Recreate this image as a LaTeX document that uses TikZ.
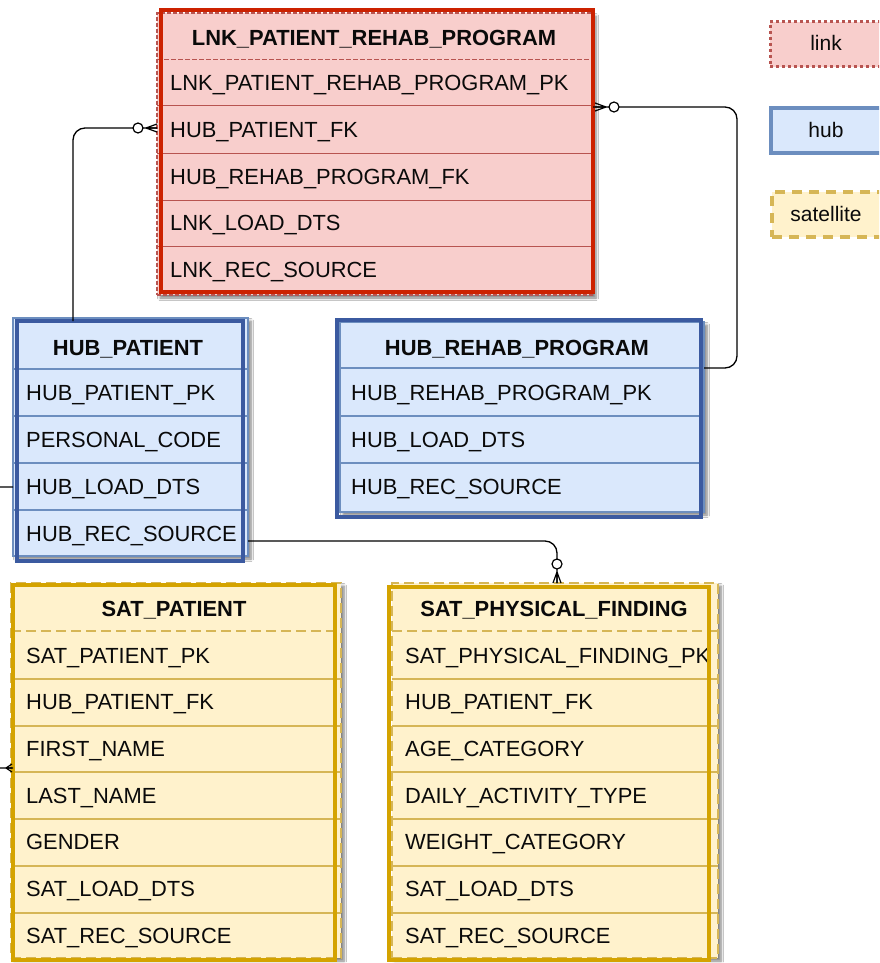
\documentclass[tikz,border=0pt]{standalone}
\usepackage{fontspec}
\setmainfont{Liberation Sans}
\usetikzlibrary{shadows.blur,calc}

\definecolor{lnkfill}{HTML}{F8CECC}
\definecolor{lnkline}{HTML}{B85450}
\definecolor{lnkedge}{HTML}{CC2200}
\definecolor{hubfill}{HTML}{DAE8FC}
\definecolor{hubline}{HTML}{6C8EBF}
\definecolor{hubedge}{HTML}{3B5AA0}
\definecolor{satfill}{HTML}{FFF2CC}
\definecolor{satline}{HTML}{D6B656}
\definecolor{satedge}{HTML}{D4A300}
\definecolor{ink}{HTML}{0A0A0A}

\tikzset{
  size/.style args={#1/#2}{minimum width=#1pt, minimum height=#2pt},
  tbl/.style={rectangle, inner sep=0pt, outer sep=0pt, anchor=north west},
  shade/.style={blur shadow={shadow xshift=3pt, shadow yshift=-3pt,
      shadow blur steps=6, shadow blur radius=2.5pt, shadow opacity=50}},
  linkframe/.style={tbl, shade, fill=lnkfill, draw=lnkline, line width=1.6pt,
      dash pattern=on 4pt off 2pt},
  hubframe/.style={tbl, shade, fill=hubfill, draw=hubline, line width=1.6pt},
  satframe/.style={tbl, shade, fill=satfill, draw=satline, line width=1.6pt,
      dash pattern=on 10pt off 5pt},
  linkedge/.style={tbl, draw=lnkedge, line width=4pt},
  hubedge/.style={tbl, draw=hubedge, line width=4pt},
  satedge/.style={tbl, draw=satedge, line width=4pt},
  linkrow/.style={draw=lnkline, line width=1pt},
  hubrow/.style={draw=hubline, line width=1.2pt},
  satrow/.style={draw=satline, line width=1.2pt},
  % text is placed on its baseline, a little below the row middle
  field/.style={anchor=base west, inner sep=0pt, text=ink, yshift=-7.8pt,
      font=\fontsize{21.9pt}{24pt}\selectfont},
  head/.style={anchor=base, inner sep=0pt, text=ink, yshift=-7.8pt,
      font=\fontsize{21.9pt}{24pt}\selectfont\bfseries},
  legendtext/.style={anchor=base, inner sep=0pt, text=ink, yshift=-7.5pt,
      font=\fontsize{21pt}{24pt}\selectfont},
  conn/.style={draw=black, line width=1.3pt, rounded corners=12pt},
  zeromany/.pic={
    \draw[black, line width=1.2pt] (11,0) -- (0,0)
      (11,0) -- (0,4) (11,0) -- (0,-4);
    \draw[black, line width=1.2pt, fill=white] (19,0) circle[radius=5pt];
  },
  manyonly/.pic={
    \draw[black, line width=1.2pt] (6,0) -- (0,0)
      (6,0) -- (0,4) (6,0) -- (0,-4);
  }
}

\begin{document}
\begin{tikzpicture}[x=1pt, y=-1pt]
\useasboundingbox (0,0) rectangle (879,963);
\clip (0,0) rectangle (879,963);
\fill[white] (0,0) rectangle (879,963);

% ---------- LNK_PATIENT_REHAB_PROGRAM ----------
\node[linkframe, size=436/282] (lnkf) at (157,13) {};
\draw[linkrow, dash pattern=on 5pt off 2pt] (157,60) -- (593,60);
\foreach \yy in {106,153,200,246} \draw[linkrow] (157,\yy) -- (593,\yy);
\node[head]  (lnkh) at (374,38)  {LNK\_PATIENT\_REHAB\_PROGRAM};
\node[field] (lnk1) at (170,83)  {LNK\_PATIENT\_REHAB\_PROGRAM\_PK};
\node[field] (lnk2) at (170,130) {HUB\_PATIENT\_FK};
\node[field] (lnk3) at (170,177) {HUB\_REHAB\_PROGRAM\_FK};
\node[field] (lnk4) at (170,223) {LNK\_LOAD\_DTS};
\node[field] (lnk5) at (170,270) {LNK\_REC\_SOURCE};
\node[linkedge, size=432/282] (lnk) at (161,10) {};

% ---------- HUB_PATIENT ----------
\node[hubframe, size=235/238] (hubpf) at (13,318) {};
\foreach \yy in {369,416,463,510} \draw[hubrow] (13,\yy) -- (248,\yy);
\node[head]  (hubph) at (128,348) {HUB\_PATIENT};
\node[field] (hubp1) at (26,393) {HUB\_PATIENT\_PK};
\node[field] (hubp2) at (26,440) {PERSONAL\_CODE};
\node[field] (hubp3) at (26,487) {HUB\_LOAD\_DTS};
\node[field] (hubp4) at (26,534) {HUB\_REC\_SOURCE};
\node[hubedge, size=226/240] (hubp) at (17,321) {};

% ---------- HUB_REHAB_PROGRAM ----------
\node[hubframe, size=364/190] (hubrf) at (340,322) {};
\foreach \yy in {368,416,463} \draw[hubrow] (340,\yy) -- (704,\yy);
\node[head]  (hubrh) at (517,348) {HUB\_REHAB\_PROGRAM};
\node[field] (hubr1) at (351,393) {HUB\_REHAB\_PROGRAM\_PK};
\node[field] (hubr2) at (351,440) {HUB\_LOAD\_DTS};
\node[field] (hubr3) at (351,487) {HUB\_REC\_SOURCE};
\node[hubedge, size=364/197] (hubr) at (337,320) {};

% ---------- SAT_PATIENT ----------
\node[satframe, size=330/375] (satpf) at (11,583) {};
\draw[satrow, dash pattern=on 10pt off 5pt] (11,631) -- (341,631);
\foreach \yy in {679,726,772,819,866,913} \draw[satrow] (11,\yy) -- (341,\yy);
\node[head]  (satph) at (174,609) {SAT\_PATIENT};
\node[field] (satp1) at (26,656) {SAT\_PATIENT\_PK};
\node[field] (satp2) at (26,702) {HUB\_PATIENT\_FK};
\node[field] (satp3) at (26,749) {FIRST\_NAME};
\node[field] (satp4) at (26,796) {LAST\_NAME};
\node[field] (satp5) at (26,842) {GENDER};
\node[field] (satp6) at (26,889) {SAT\_LOAD\_DTS};
\node[field] (satp7) at (26,936) {SAT\_REC\_SOURCE};
\node[satedge, size=322/375] (satp) at (13,585) {};

% ---------- SAT_PHYSICAL_FINDING ----------
\node[satframe, size=326/375] (satff) at (392,583) {};
\draw[satrow, dash pattern=on 10pt off 5pt] (392,631) -- (718,631);
\foreach \yy in {679,726,772,819,866,913} \draw[satrow] (392,\yy) -- (718,\yy);
\node[head]  (satfh) at (554,609) {SAT\_PHYSICAL\_FINDING};
\node[field] (satf1) at (405,656) {SAT\_PHYSICAL\_FINDING\_PK};
\node[field] (satf2) at (405,702) {HUB\_PATIENT\_FK};
\node[field] (satf3) at (405,749) {AGE\_CATEGORY};
\node[field] (satf4) at (405,796) {DAILY\_ACTIVITY\_TYPE};
\node[field] (satf5) at (405,842) {WEIGHT\_CATEGORY};
\node[field] (satf6) at (405,889) {SAT\_LOAD\_DTS};
\node[field] (satf7) at (405,936) {SAT\_REC\_SOURCE};
\node[satedge, size=320/373] (satf) at (389,587) {};

% ---------- legend ----------
\node[tbl, fill=lnkfill, draw=lnkline, line width=3pt,
      dash pattern=on 3pt off 3pt, size=120/45] (lglink) at (770,22) {};
\node[legendtext] (lglinkt) at (826,43) {link};
\node[tbl, fill=hubfill, draw=hubline, line width=3.5pt, size=120/45] (lghub) at (771,108) {};
\node[legendtext] (lghubt) at (826,130) {hub};
\node[tbl, fill=satfill, draw=satline, line width=3.5pt,
      dash pattern=on 10pt off 7pt, size=120/45] (lgsat) at (772,192) {};
\node[legendtext] (lgsatt) at (826,214) {satellite};

% ---------- relationships ----------
\coordinate (bendA) at (73,128);
\draw[conn] (hubp.north -| bendA) |- (lnkf.west |- bendA);
\pic[rotate=180] at (lnkf.west |- bendA) {zeromany};

\coordinate (bendB) at (737,107);
\draw[conn] (hubrf.east |- 0,368) -| (bendB) -- (lnk.east |- bendB);
\pic at ([xshift=2pt]lnk.east |- bendB) {zeromany};

\coordinate (bendC) at (557,541);
\draw[conn] (hubpf.east |- bendC) -| (satff.north -| bendC);
\pic[rotate=90] at (satff.north -| bendC) {zeromany};

\coordinate (bendD) at (-30,768);
\draw[conn] (hubpf.west |- 0,487) -| (bendD) -- (satp.west |- bendD);
\pic[rotate=180] at ([xshift=-1pt]satp.west |- bendD) {manyonly};
\end{tikzpicture}
\end{document}
